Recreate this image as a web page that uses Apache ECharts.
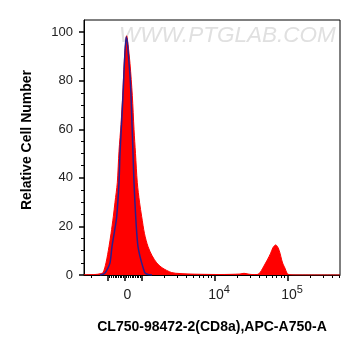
<!DOCTYPE html>
<html>
<head>
<meta charset="utf-8">
<script src="https://cdn.jsdelivr.net/npm/echarts@6/dist/echarts.min.js"></script>
<style>html,body{margin:0;padding:0;background:#fff}#c{width:361px;height:356px}</style>
</head>
<body>
<div id="c"></div>
<script>
// x positions are in display channel units (0..256 across the plot)
const redX = [0, 11, 16, 19, 22, 25, 27, 29.3, 31, 33.3, 35, 37, 38.7, 40.3, 41.5, 42.7, 44, 46, 48.3, 50, 51.5, 53.3, 55.5, 57.7, 60.5, 64, 68, 72.7, 78, 87.7, 96, 106, 116, 136, 156, 160, 164, 168, 173, 176, 178.7, 181, 183.3, 186.7, 189, 191.7, 194, 196, 197.7, 199, 201, 202.5, 204, 208, 216, 256];
const redY = [0.1, 0.2, 0.5, 1, 5, 11.7, 17, 24, 30, 38, 51, 62, 74, 88, 95, 98.5, 95, 87, 74, 60, 50, 38, 30, 24, 17, 11.7, 8, 5, 3, 1, 0.6, 0.4, 0.3, 0.2, 0.4, 0.7, 0.4, 0.2, 0.2, 1, 2.8, 4.5, 6.2, 9, 11.3, 12.4, 11.3, 9, 6.2, 4.5, 2.8, 1.2, 0.3, 0.05, 0.02, 0];
const blueX = [16, 19, 21, 23.5, 26, 28, 30.5, 32.7, 35, 36, 37.5, 39, 40.5, 42.2, 43.3, 44.5, 46, 47, 48, 49, 50, 51.7, 52.8, 54, 55.8, 57.7, 59.5, 61, 64, 68];
const blueY = [0, 0.3, 0.8, 2.5, 5, 11.7, 18, 24, 38, 50, 62, 74, 88, 98, 96, 90, 82, 74, 62, 50, 38, 24, 17, 11.7, 8, 5, 2.5, 0.8, 0.2, 0];

const yMajorTicks = [0, 20, 40, 60, 80, 100];
const yMinorTicks = [5, 10, 15, 25, 30, 35, 45, 50, 55, 65, 70, 75, 85, 90, 95];
const xMajorTickVals = [-1000, 0, 1000, 1e4, 1e5];
const xMinorTickVals = [-2000, -900, -800, -700, -600, -500, -400, -300, -200, -100,
  100, 200, 300, 400, 500, 600, 700, 800, 900,
  2000, 3000, 4000, 5000, 6000, 7000, 8000, 9000,
  2e4, 3e4, 4e4, 5e4, 6e4, 7e4, 8e4, 9e4,
  2e5, 3e5, 4e5, 5e5];
const xLabelVals = [0, 1e4, 1e5];
const xLabelTexts = ['{b|0}{s| }', '{b|10}{s|4}', '{b|10}{s|5}'];

const xTitle = 'CL750-98472-2(CD8a),APC-A750-A';
const yTitle = 'Relative Cell Number';

function ch(v) {
  return v <= 1000 ? 41 + 17 * v / 1000 : 58 + 73 * Math.log10(v / 1000);
}
const toPairs = (xs, ys) => xs.map((x, i) => [x, ys[i]]);
const xLabelPos = xLabelVals.map(ch);

const FONT = 'Liberation Sans, Arial, sans-serif';
const chart = echarts.init(document.getElementById('c'));
chart.setOption({
  animation: false,
  grid: { left: 84, right: 21, top: 20, bottom: 81, show: true, borderColor: '#000', borderWidth: 1, backgroundColor: 'transparent' },
  graphic: [
    { type: 'text', z: 0, left: 119, top: 24, style: { text: 'WWW.PTGLAB.COM', fontSize: 22.5, fontStyle: 'italic', fontFamily: FONT, fill: '#e0e0e0' } },
    { type: 'text', z: 10, x: 27.5, y: 140, rotation: Math.PI / 2, style: { text: yTitle, fontSize: 14, fontWeight: 'bold', fontFamily: FONT, fill: '#000', align: 'center', verticalAlign: 'middle' } }
  ],
  xAxis: [
    {
      type: 'value', min: 0, max: 256, position: 'bottom',
      axisLine: { show: true, lineStyle: { color: '#000', width: 1 } },
      axisTick: { show: true, length: 6, customValues: xMajorTickVals.map(ch), lineStyle: { color: '#000', width: 1.5 } },
      axisLabel: {
        show: true, customValues: xLabelPos, margin: 9, color: '#222', fontFamily: FONT,
        formatter: function (v) {
          for (let i = 0; i < xLabelPos.length; i++) if (Math.abs(xLabelPos[i] - v) < 0.01) return xLabelTexts[i];
          return '';
        },
        rich: {
          b: { fontSize: 14, fontFamily: FONT, color: '#222', verticalAlign: 'bottom', padding: [0, 0, 0, 8] },
          s: { fontSize: 11, fontFamily: FONT, color: '#222', verticalAlign: 'bottom', padding: [0, 0, 7, 0] }
        }
      },
      splitLine: { show: false },
      name: xTitle, nameLocation: 'middle', nameGap: 45,
      nameTextStyle: { fontSize: 14, fontWeight: 'bold', fontFamily: FONT, color: '#000' }
    },
    {
      type: 'value', min: 0, max: 256, position: 'bottom',
      axisLine: { show: false },
      axisTick: { show: true, length: 3, customValues: xMinorTickVals.map(ch), lineStyle: { color: '#000', width: 1 } },
      axisLabel: { show: false },
      splitLine: { show: false }
    }
  ],
  yAxis: [
    {
      type: 'value', min: 0, max: 105, position: 'left',
      axisLine: { show: true, lineStyle: { color: '#000', width: 1 } },
      axisTick: { show: true, length: 5, customValues: yMajorTicks, lineStyle: { color: '#000', width: 1.5 } },
      axisLabel: { customValues: yMajorTicks, margin: 11, fontSize: 13, color: '#222', fontFamily: FONT },
      splitLine: { show: false }
    },
    {
      type: 'value', min: 0, max: 105, position: 'left',
      axisLine: { show: false },
      axisTick: { show: true, length: 3, customValues: yMinorTicks, lineStyle: { color: '#000', width: 1 } },
      axisLabel: { show: false },
      splitLine: { show: false }
    }
  ],
  series: [
    {
      type: 'line', xAxisIndex: 0, yAxisIndex: 0, data: toPairs(redX, redY),
      smooth: 0.3, showSymbol: false, z: 2,
      lineStyle: { color: '#ff0000', width: 1 },
      areaStyle: { color: '#ff0000', opacity: 1 }
    },
    {
      type: 'line', xAxisIndex: 0, yAxisIndex: 0, data: toPairs(blueX, blueY),
      smooth: 0.3, showSymbol: false, z: 3,
      lineStyle: { color: '#2a1d8f', width: 1.5 }
    }
  ]
});
</script>
</body>
</html>
